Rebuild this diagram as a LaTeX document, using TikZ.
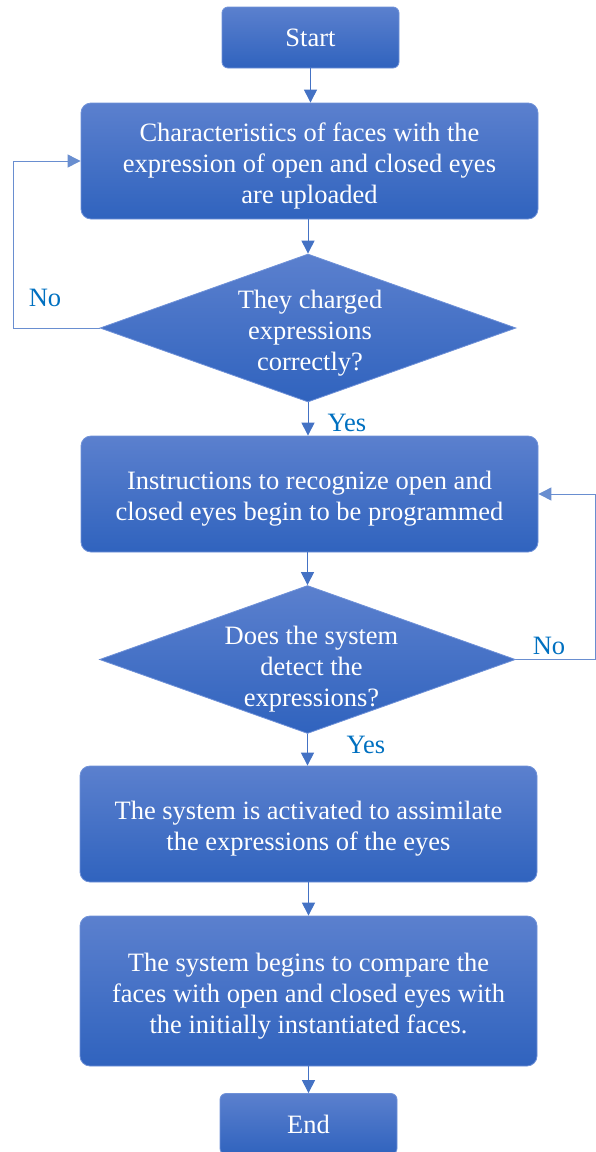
\documentclass[tikz,border=0pt]{standalone}
\usepackage{fontspec}
\setmainfont{Liberation Serif}
\usetikzlibrary{shapes.geometric,arrows.meta}
\definecolor{topblue}{HTML}{5B80CE}
\definecolor{botblue}{HTML}{3063BE}
\definecolor{edgeblue}{HTML}{6F91D8}
\definecolor{linkblue}{HTML}{4472C4}
\definecolor{labblue}{HTML}{0070C0}
\newcommand{\mltext}[2][5pt]{\raisebox{-#1}[\height][\depth]{\begin{tabular}{@{}c@{}}#2\end{tabular}}}
\newcommand{\mldtext}[3]{\makebox[0pt]{\hspace*{#1}\mltext[#2]{#3}}}
\tikzset{
  boxbase/.style={draw=edgeblue, line width=0.8pt, top color=topblue, bottom color=botblue,
    text=white, align=center, inner sep=0pt,
    font=\fontsize{26.5}{31}\selectfont},
  termbox/.style={boxbase, rectangle, rounded corners=6pt, minimum width=177pt, minimum height=61pt},
  procbox/.style={boxbase, rectangle, rounded corners=10pt, minimum width=457pt},
  decbox/.style={boxbase, diamond, aspect=2.81, minimum width=416pt, minimum height=148pt},
  link/.style={draw=linkblue, line width=1pt, -{Triangle[length=13pt,width=13pt]}},
  looplink/.style={draw=linkblue!80, line width=1pt, -{Triangle[length=13pt,width=13pt]}},
  lab/.style={text=labblue, font=\fontsize{26.5}{31}\selectfont, inner sep=0pt}
}
\begin{document}
\begin{tikzpicture}[x=1pt,y=-1pt]
\useasboundingbox (0,0) rectangle (596,1152);
\node[termbox] (start) at (310.5,37.5) {Start};
\node[procbox, minimum height=116pt] (b1) at (309.5,161) {\mltext{Characteristics of faces with the\\expression of open and closed eyes\\are uploaded}};
\node[decbox] (d1) at (308,328) {\mldtext{4pt}{5pt}{They charged\\expressions\\correctly?}};
\node[procbox, minimum height=116pt] (b2) at (309.5,494) {\mltext{Instructions to recognize open and\\closed eyes begin to be programmed}};
\node[decbox] (d2) at (307.5,659.5) {\mldtext{8pt}{10pt}{Does the system\\detect the\\expressions?}};
\node[procbox, minimum height=116pt] (b3) at (308.5,824) {\mltext{The system is activated to assimilate\\the expressions of the eyes}};
\node[procbox, minimum height=150pt] (b4) at (308.5,991) {\mltext{The system begins to compare the\\faces with open and closed eyes with\\the initially instantiated faces.}};
\node[termbox] (end) at (308.5,1124) {End};
\coordinate (c1) at (13,328);
\coordinate (c2) at (595,659.5);
\draw[link] (start.south) -- (start.south |- b1.north);
\draw[link] (b1.south -| d1.north) -- (d1.north);
\draw[link] (d1.south) -- (d1.south |- b2.north);
\draw[link] (b2.south -| d2.north) -- (d2.north);
\draw[link] (d2.south) -- (d2.south |- b3.north);
\draw[link] (b3.south) -- (b4.north);
\draw[link] (b4.south) -- (end.north);
\draw[looplink] (d1.west) -- (c1) |- (b1.west);
\draw[looplink] (d2.east) -- (c2) |- (b2.east);
\node[lab] (no1) at (45,298) {No};
\node[lab] (yes1) at (347,423) {Yes};
\node[lab] (no2) at (549,646) {No};
\node[lab] (yes2) at (366,745) {Yes};
\end{tikzpicture}
\end{document}
